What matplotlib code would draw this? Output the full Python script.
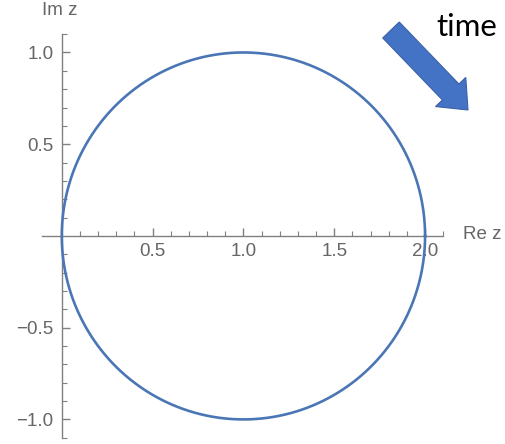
import matplotlib.pyplot as plt
import numpy as np
from matplotlib.patches import FancyArrow

# 圆的参数（z = 1 + e^{i t}）
center = (1.0, 0.0)
radius = 1.0
x_ticks = [0.5, 1.0, 1.5, 2.0]
x_labels = ['0.5', '1.0', '1.5', '2.0']
y_ticks = [-1.0, -0.5, 0.5, 1.0]
y_labels = ['\u22121.0', '\u22120.5', '0.5', '1.0']
x_minor = [i / 10 for i in range(1, 22) if i % 5 != 0]
y_minor = [i / 10 for i in range(-11, 12) if i % 5 != 0]

t = np.linspace(0, 2 * np.pi, 400)
re = center[0] + radius * np.cos(t)
im = center[1] + radius * np.sin(t)

plt.rcParams['font.family'] = ['Liberation Sans', 'DejaVu Sans']

fig = plt.figure(figsize=(5.05, 4.44), dpi=100)
ax = fig.add_axes([0, 0, 1, 1])
ax.set_xlim(-0.34, 2.44)
ax.set_ylim(-1.134, 1.286)

ax.plot(re, im, color='#4a76b5', lw=1.9, zorder=3)

axis_col = '#808080'
lab_col = '#666666'
for s in ['top', 'right']:
    ax.spines[s].set_visible(False)
ax.spines['left'].set_position(('data', 0))
ax.spines['bottom'].set_position(('data', 0))
ax.spines['left'].set_bounds(-1.1, 1.1)
ax.spines['bottom'].set_bounds(-0.11, 2.1)
for s in ['left', 'bottom']:
    ax.spines[s].set_color(axis_col)
    ax.spines[s].set_linewidth(1.0)

ax.set_xticks(x_ticks)
ax.set_xticklabels(x_labels)
ax.set_yticks(y_ticks)
ax.set_yticklabels(y_labels)
ax.set_xticks(x_minor, minor=True)
ax.set_yticks(y_minor, minor=True)
ax.tick_params(axis='x', which='both', direction='in', colors=axis_col,
               labelcolor=lab_col, labelsize=13.5, pad=5)
ax.tick_params(axis='y', which='both', direction='in', colors=axis_col,
               labelcolor=lab_col, labelsize=13.5, pad=6)
ax.tick_params(which='major', length=6, width=1.0)
ax.tick_params(which='minor', length=3.5, width=0.8)
ax.yaxis.set_ticks_position('left')
ax.xaxis.set_ticks_position('bottom')

ax.text(-0.01, 1.23, 'Im z', fontsize=13.5, color=lab_col, ha='center', va='center')
ax.text(2.21, 0.01, 'Re z', fontsize=13.5, color=lab_col, ha='left', va='center')

# 时间方向箭头（像素坐标）
arrow = FancyArrow(391, 414, 77, -80, width=23, head_width=42, head_length=25,
                   length_includes_head=True, fc='#4472c4', ec='#3a62a8', lw=0.8,
                   transform=None, figure=fig)
fig.patches.append(arrow)
fig.text(436, 417, 'time', fontsize=22.5, family=['Lato', 'DejaVu Sans'],
         color='black', ha='left', va='center', transform=None)

fig.savefig('out.png', dpi=100)
